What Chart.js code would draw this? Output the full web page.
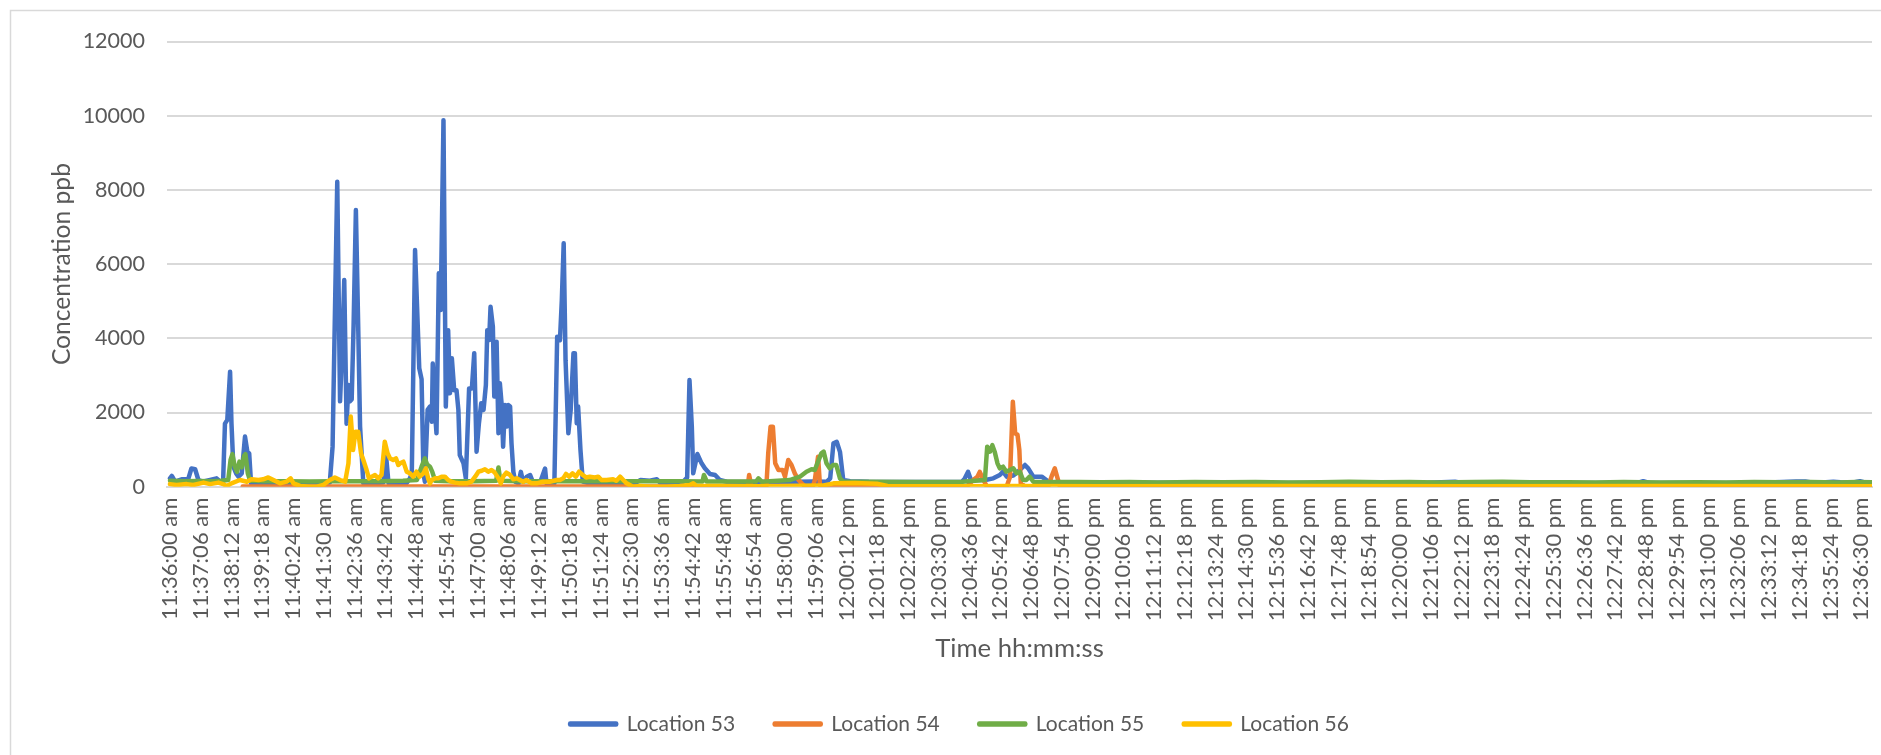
<!DOCTYPE html>
<html><head><meta charset="utf-8">
<script src="https://cdn.jsdelivr.net/npm/chart.js@4"></script>
<style>html,body{margin:0;padding:0;background:#fff}#wrap{position:relative;width:1881px;height:755px}</style>
</head><body><div id="wrap"><canvas id="c" width="1881" height="755"></canvas></div>
<script>
// ---------- data ----------
const seriesNames = ['Location 53', 'Location 54', 'Location 55', 'Location 56'];
const seriesColors = ['#4472C4', '#ED7D31', '#70AD47', '#FFC000'];
const yTicks = [0, 2000, 4000, 6000, 8000, 10000, 12000];
// tick positions in seconds after 11:36:00 am
const tickSeconds = [0,66,132,198,264,330,396,462,528,594,660,726,792,858,924,990,1056,1122,1188,1254,1320,1386,1452,1518,1584,1650,1716,1782,1848,1914,1980,2046,2112,2178,2244,2310,2376,2442,2508,2574,2640,2706,2772,2838,2904,2970,3036,3102,3168,3234,3300,3366,3432,3498,3564,3630];
const tickLabels = ['11:36:00 am','11:37:06 am','11:38:12 am','11:39:18 am','11:40:24 am','11:41:30 am','11:42:36 am','11:43:42 am','11:44:48 am','11:45:54 am','11:47:00 am','11:48:06 am','11:49:12 am','11:50:18 am','11:51:24 am','11:52:30 am','11:53:36 am','11:54:42 am','11:55:48 am','11:56:54 am','11:58:00 am','11:59:06 am','12:00:12 pm','12:01:18 pm','12:02:24 pm','12:03:30 pm','12:04:36 pm','12:05:42 pm','12:06:48 pm','12:07:54 pm','12:09:00 pm','12:10:06 pm','12:11:12 pm','12:12:18 pm','12:13:24 pm','12:14:30 pm','12:15:36 pm','12:16:42 pm','12:17:48 pm','12:18:54 pm','12:20:00 pm','12:21:06 pm','12:22:12 pm','12:23:18 pm','12:24:24 pm','12:25:30 pm','12:26:36 pm','12:27:42 pm','12:28:48 pm','12:29:54 pm','12:31:00 pm','12:32:06 pm','12:33:12 pm','12:34:18 pm','12:35:24 pm','12:36:30 pm'];

// Location 53 (seconds after 11:36:00, ppb)
const time53 = [0,4,11,25,39,46,54,61,70,100,107,114,118,123,129,132,136,142,147,154,161,166,170,174,200,250,300,343,349,359,365,370,374,379,383,386,390,394,399,404,408,415,440,458,463,469,490,508,515,519,526,535,540,544,547,553,558,562,564,569,572,577,581,587,592,597,601,605,610,615,619,622,630,635,642,648,653,658,663,668,673,678,681,685,688,693,696,701,705,708,712,715,719,723,726,730,733,737,741,748,753,758,766,773,780,795,805,808,825,831,837,841,845,849,855,860,866,869,873,876,881,886,900,950,1000,1010,1030,1045,1052,1100,1110,1115,1120,1123,1132,1141,1148,1159,1170,1180,1195,1250,1300,1350,1380,1410,1417,1424,1431,1438,1445,1460,1500,1600,1700,1706,1713,1719,1750,1767,1781,1788,1796,1810,1824,1835,1842,1853,1860,1871,1881,1889,1950,2100,2300,2500,2700,2758,2775,3000,3150,3162,3175,3400,3490,3510,3530,3570,3585,3610,3627,3640,3653];
const conc53 = [225,290,135,200,200,490,470,180,135,225,150,135,1700,1800,3100,1700,540,360,270,360,1350,945,900,90,110,100,110,110,1080,8220,2300,3860,5570,1700,2740,2300,2350,4310,7460,4300,1620,90,100,110,940,100,90,100,225,360,6380,3190,2900,360,135,2070,2160,1750,3320,1980,1440,5750,4760,9880,2160,4220,2520,3460,2600,2600,2070,850,630,225,2650,2650,3600,945,1700,2250,2070,2740,4220,3950,4850,4310,2430,3910,1440,2790,2200,1080,2200,1620,2200,2160,1170,400,135,90,400,135,270,315,90,135,490,90,90,4040,3950,5030,6560,3410,1440,2070,3600,3600,1710,2160,990,135,90,90,110,180,160,200,110,110,250,2875,1620,360,880,630,495,340,315,180,135,130,135,135,140,135,225,1170,1210,940,180,150,135,130,135,225,400,180,180,225,315,405,270,300,450,585,495,270,270,270,180,110,100,105,100,100,105,135,100,100,100,150,100,100,140,140,100,135,120,110,150,110,110];

// Location 54
const time54 = [156,300,600,900,1200,1240,1243,1248,1280,1284,1289,1294,1299,1306,1315,1320,1327,1334,1341,1349,1356,1363,1380,1384,1391,1395,1399,1710,1717,1724,1733,1738,1746,1753,1796,1803,1809,1814,1819,1823,1826,1835,1885,1892,1899,1904,1910,2500,3653];
const conc54 = [5,5,5,5,5,10,315,10,10,900,1617,1617,630,450,450,270,720,585,360,180,90,10,10,180,810,45,10,10,90,180,270,400,180,10,10,270,2290,1440,1400,990,90,10,10,270,495,270,10,5,5];

// Location 55
const time55 = [0,30,60,90,110,125,130,134,139,144,149,154,159,162,167,172,200,250,300,350,400,450,500,530,540,547,552,558,563,569,600,650,700,705,709,750,800,900,1000,1100,1143,1146,1152,1200,1258,1263,1270,1330,1352,1366,1377,1384,1391,1398,1403,1409,1416,1423,1430,1438,1445,1500,1600,1700,1749,1754,1760,1765,1770,1776,1781,1788,1795,1803,1810,1817,1824,1831,1838,1845,1853,1900,1950,2000,2060,2120,2200,2260,2330,2400,2470,2530,2600,2660,2720,2800,2860,2920,3000,3060,3120,3200,3280,3340,3400,3460,3520,3580,3620,3653];
const conc55 = [160,150,155,150,160,180,720,880,540,400,675,520,830,880,360,160,150,150,140,150,150,145,160,180,540,765,600,540,400,160,150,150,160,520,160,150,150,150,150,150,140,315,140,140,140,225,135,180,270,405,470,450,675,900,945,630,495,585,585,225,135,135,130,135,180,1080,945,1120,945,630,495,540,405,450,495,360,405,180,180,270,135,130,125,120,130,115,125,118,128,112,122,132,118,128,115,125,132,118,122,112,125,110,120,115,125,118,128,115,125,120];

// Location 56
const time56 = [0,14,36,50,72,86,104,114,122,132,150,165,175,190,200,211,222,236,250,259,265,279,300,315,329,343,354,365,376,383,388,393,398,404,410,415,422,427,433,440,447,454,461,467,472,479,485,490,494,501,508,515,522,529,536,544,549,554,558,562,569,576,583,590,597,604,612,622,637,647,655,662,669,676,683,690,697,705,710,715,722,730,737,744,751,758,765,776,787,801,815,830,837,844,850,857,864,871,878,886,893,901,912,919,926,937,951,958,966,973,980,987,994,1009,1030,1066,1094,1116,1123,1130,1180,1250,1400,1424,1470,1517,1540,1700,1800,2000,2400,2800,3200,3653];
const conc56 = [70,45,70,45,110,70,110,70,20,90,180,135,200,180,200,250,180,90,135,225,90,20,0,0,45,180,250,180,135,630,1890,990,1480,1480,900,720,450,225,270,315,225,315,1210,900,765,720,765,585,630,675,405,360,270,405,270,360,495,225,90,180,225,225,270,270,180,135,110,90,90,135,270,405,430,470,405,450,380,225,90,270,380,315,200,225,180,135,180,90,90,135,135,180,180,225,345,270,360,270,405,315,250,270,250,270,180,180,200,160,270,180,90,45,0,20,0,0,20,45,90,20,20,15,30,90,100,80,20,15,20,15,20,15,20,15];

// ---------- chart ----------
const FONT = 'Lato, "Open Sans", sans-serif';
const TXT = '#595959';
const target = {left: 167, right: 1872, top: 41.5, bottom: 486.7};
const times = [time53, time54, time55, time56];
const concs = [conc53, conc54, conc55, conc56];

const datasets = seriesNames.map((name, i) => ({
  label: name,
  data: times[i].map((t, k) => ({x: t, y: concs[i][k]})),
  borderColor: seriesColors[i],
  backgroundColor: seriesColors[i],
  borderWidth: 4.5,
  pointRadius: 0,
  tension: 0,
  borderJoinStyle: 'round',
  borderCapStyle: 'round',
  fill: false,
  order: 3 - i
}));

const frame = {
  id: 'frame',
  beforeDraw(c) {
    const x = c.ctx; x.save();
    x.fillStyle = '#fff'; x.fillRect(0, 0, c.width, c.height);
    x.strokeStyle = '#d9d9d9'; x.lineWidth = 1.5;
    x.strokeRect(10.5, 10.5, 1950, 900);
    x.restore();
  }
};

const cfg = {
  type: 'line',
  data: {datasets},
  options: {
    responsive: false, animation: false, devicePixelRatio: 1,
    layout: {padding: {left: 47, right: 9, top: 41.5, bottom: 10.5}},
    plugins: {
      legend: {
        position: 'bottom',
        labels: {
          boxWidth: 46, boxHeight: 1, padding: 39.5, color: TXT,
          font: {family: FONT, size: 21},
          sort: (a, b) => a.datasetIndex - b.datasetIndex
        }
      },
      tooltip: {enabled: false}
    },
    scales: {
      x: {
        type: 'linear', min: -6.4, max: 3653,
        afterBuildTicks: s => { s.ticks = tickSeconds.map(v => ({value: v})); },
        afterFit: s => { s.paddingLeft = 0; s.paddingRight = 0; },
        ticks: {autoSkip: false, minRotation: 90, maxRotation: 90, padding: 11, color: TXT,
          font: {family: FONT, size: 22}, callback: (v, i) => tickLabels[i]},
        grid: {display: false, drawTicks: false},
        border: {display: true, color: '#d9d9d9', width: 2},
        title: {display: true, text: 'Time hh:mm:ss', color: TXT, font: {family: FONT, size: 25.7},
          padding: {top: 8, bottom: 9.5}}
      },
      y: {
        min: 0, max: 12000,
        afterBuildTicks: s => { s.ticks = yTicks.map(v => ({value: v})); },
        ticks: {padding: 22, color: TXT, font: {family: FONT, size: 21.5}, callback: v => String(v)},
        grid: {color: '#d9d9d9', lineWidth: 2, drawTicks: false},
        border: {display: false},
        title: {display: true, text: 'Concentration ppb', color: TXT, font: {family: FONT, size: 24.6},
          padding: {top: 0, bottom: 20}}
      }
    }
  },
  plugins: [frame]
};

const chart = new Chart(document.getElementById('c').getContext('2d'), cfg);
for (let k = 0; k < 5; k++) {
  const a = chart.chartArea;
  const dl = target.left - a.left, dt = target.top - a.top;
  const dr = a.right - target.right, db = a.bottom - target.bottom;
  if (Math.abs(dl) + Math.abs(dt) + Math.abs(dr) + Math.abs(db) < 0.2) break;
  cfg.options.scales.y.title.padding.bottom += dl;
  cfg.options.layout.padding.top += dt;
  cfg.options.layout.padding.right += dr;
  cfg.options.scales.x.title.padding.top += db;
  chart.update();
}
</script>
</body></html>
